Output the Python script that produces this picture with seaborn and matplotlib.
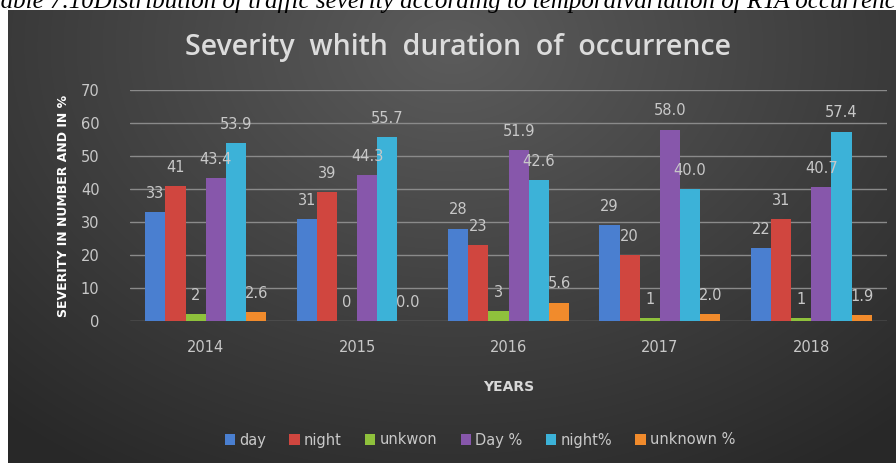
import numpy as np
import pandas as pd
import matplotlib
matplotlib.use("Agg")
import matplotlib.pyplot as plt
import seaborn as sns

years = ["2014", "2015", "2016", "2017", "2018"]
series = ["day", "night", "unkwon", "Day %", "night%", "unknown %"]
day = [33, 31, 28, 29, 22]
night = [41, 39, 23, 20, 31]
unkwon = [2, 0, 3, 1, 1]
day_pct = [43.4, 44.3, 51.9, 58.0, 40.7]
night_pct = [53.9, 55.7, 42.6, 40.0, 57.4]
unknown_pct = [2.6, 0.0, 5.6, 2.0, 1.9]
colors = ["#4a7fd0", "#d0463f", "#8fc13c", "#8757ab", "#3cb2d8", "#f18b2c"]

values = [day, night, unkwon, day_pct, night_pct, unknown_pct]
rows = []
for s, vals in zip(series, values):
    for y, v in zip(years, vals):
        rows.append({"year": y, "series": s, "value": v})
df = pd.DataFrame(rows)

sns.set_theme(style="dark")
plt.rcParams["font.family"] = ["DejaVu Sans"]

fig = plt.figure(figsize=(8.96, 4.63), dpi=100)
fig.patch.set_facecolor("white")

# dark gradient panel
W, H = 896, 463
px0, py0 = 8, 10
bg = fig.add_axes([px0 / W, 0, 1 - px0 / W, 1 - py0 / H])
yy, xx = np.mgrid[0:1:300j, 0:1:600j]
r = np.sqrt(((xx - 0.5) / 0.75) ** 2 + ((yy - 0.08) / 1.1) ** 2)
r = np.clip(r, 0, 1)
g = 0.36 - 0.20 * r
img = np.dstack([g, g, g])
bg.imshow(img, aspect="auto", extent=[0, 1, 1, 0], interpolation="bilinear")
bg.set_axis_off()
bg.set_zorder(-5)

# caption partly cut off at top, as in the reference
fig.text(0.5, 1 - 8 / H, "Table 7.10Distribution of traffic severity according to temporalvariation of RTA occurrence",
         ha="center", va="baseline", fontsize=18, family="Liberation Serif", style="italic", color="black")

ax = fig.add_axes([130 / W, 1 - 321 / H, (887 - 130) / W, (321 - 90) / H])
ax.set_facecolor("none")
sns.barplot(data=df, x="year", y="value", hue="series", palette=colors,
            width=0.8, ax=ax, saturation=1, legend=True, errorbar=None, linewidth=0)
ax.set_ylim(0, 70)
ax.set_yticks(range(0, 71, 10))
ax.grid(axis="y", color="#8a8a8a", linewidth=1.0)
ax.grid(axis="x", visible=False)
ax.set_axisbelow(True)
for sp in ax.spines.values():
    sp.set_visible(False)
ax.tick_params(axis="both", colors="#c8c8c8", labelsize=10.5, length=0)
ax.tick_params(axis="y", pad=22)
ax.tick_params(axis="x", pad=14)
ax.set_xlabel("YEARS", color="#d8d8d8", fontsize=10, fontweight="bold", labelpad=18)
ax.set_ylabel("SEVERITY IN NUMBER AND IN %", color="white", fontsize=9, fontweight="bold", labelpad=8)

for i, cont in enumerate(ax.containers):
    if i < 3:
        labels = [f"{v:.0f}" for v in values[i]]
    else:
        labels = [f"{v:.1f}" for v in values[i]]
    ax.bar_label(cont, labels=labels, padding=8, color="#c8c8c8", fontsize=10.5)

handles, labs = ax.get_legend_handles_labels()
ax.legend_.remove()
fig.legend(handles, labs, loc="center", bbox_to_anchor=(480 / W, 1 - 440 / H), ncol=6,
           frameon=False, fontsize=10.5, labelcolor="#c8c8c8", handlelength=0.7, handleheight=0.7,
           handletextpad=0.3, columnspacing=1.6)

fig.text(458 / W, 1 - 47 / H, "Severity  whith  duration  of  occurrence", ha="center", va="center",
         fontsize=20.5, fontweight="semibold", color="#dcdcdc", family="Open Sans")

fig.savefig("out.png", dpi=100)
